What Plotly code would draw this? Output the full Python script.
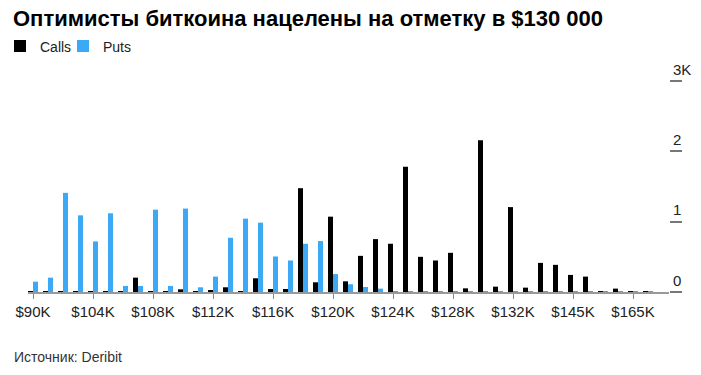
import plotly.graph_objects as go

strikes = ["$90K", "$95K", "$100K", "$102K", "$104K", "$105K", "$106K", "$107K",
           "$108K", "$109K", "$110K", "$111K", "$112K", "$113K", "$114K", "$115K",
           "$116K", "$117K", "$118K", "$119K", "$120K", "$121K", "$122K", "$123K",
           "$124K", "$125K", "$126K", "$127K", "$128K", "$129K", "$130K", "$131K",
           "$132K", "$134K", "$135K", "$140K", "$145K", "$150K", "$155K", "$160K",
           "$165K", "$170K"]

calls = [12, 12, 12, 12, 12, 12, 12, 204, 12, 12, 38, 12, 15, 67, 12, 195,
         43, 43, 1476, 138, 1071, 152, 514, 752, 686, 1781, 500, 448, 557, 52,
         2157, 76, 1207, 62, 414, 386, 243, 219, 12, 48, 12, 12]

puts = [147, 204, 1410, 1090, 719, 1119, 86, 86, 1171, 86, 1186, 67, 219, 771,
        1043, 986, 505, 448, 686, 724, 255, 110, 71, 48, 8, 8, 8, 8, 8, 8, 8, 8,
        8, 8, 8, 8, 8, 8, 8, 8, 8, 8]

tick_labels = ["$90K", "$104K", "$108K", "$112K", "$116K", "$120K", "$124K",
               "$128K", "$132K", "$145K", "$165K"]
y_ticks = [0, 1000, 2000, 3000]
y_tick_text = ["0", "1", "2", "3K"]

BLUE = "#3BA9F5"
FONT = "Liberation Sans"

W, H = 701, 375
ML, MR, MT, MB = 28, 32, 81, 83
PW, PH = W - ML - MR, H - MT - MB
CAT_PX = 15.0
X0 = -5 / CAT_PX
X1 = X0 + PW / CAT_PX

fig = go.Figure()
fig.add_trace(go.Bar(name="Calls", x=strikes, y=calls, marker_color="#000000",
                     marker_line_width=0, legend="legend"))
fig.add_trace(go.Bar(name="Puts", x=strikes, y=puts, marker_color=BLUE,
                     marker_line_width=0, legend="legend2"))

legend_common = dict(orientation="h", xref="container", yref="container",
                     xanchor="left", y=1 - 30.5/H, yanchor="top",
                     font=dict(family=FONT, size=14, color="#222222"),
                     itemwidth=30, bgcolor="rgba(0,0,0,0)")

fig.update_layout(
    width=W, height=H,
    margin=dict(l=ML, r=MR, t=MT, b=MB, autoexpand=False),
    paper_bgcolor="white", plot_bgcolor="white",
    barmode="group", bargap=1/3, bargroupgap=0,
    font=dict(family=FONT, color="#222222", size=14),
    title=dict(text="<b>Оптимисты биткоина нацелены на отметку в $130 000</b>",
               x=13/W, xanchor="left", xref="container",
               y=1 - 18/H, yanchor="middle", yref="container",
               font=dict(family=FONT, size=22, color="#000000")),
    legend=dict(x=0, **legend_common),
    legend2=dict(x=63/W, **legend_common),
    showlegend=True,
    annotations=[dict(text="Источник: Deribit", xref="paper", yref="paper",
                      x=(12 - ML) / PW, y=(H - MB - 357) / PH,
                      xanchor="left", yanchor="middle",
                      showarrow=False, font=dict(family=FONT, size=14, color="#333333"))],
)

fig.update_xaxes(
    type="category", range=[X0, X1], automargin=False,
    tickmode="array", tickvals=tick_labels, ticktext=tick_labels,
    ticks="outside", ticklen=5, tickwidth=1, tickcolor="#888888",
    showline=True, linecolor="#999999", linewidth=2,
    showgrid=False, zeroline=False,
    tickfont=dict(family=FONT, size=15, color="#222222"),
)
fig.update_yaxes(
    side="right", range=[0, 3000], automargin=False,
    tickmode="array", tickvals=y_ticks, ticktext=y_tick_text,
    ticks="outside", ticklen=12, tickwidth=2, tickcolor="#777777",
    ticklabelposition="outside top",
    showgrid=False, zeroline=False, showline=False,
    tickfont=dict(family=FONT, size=15, color="#222222"),
)

fig.write_html("out.html",
               config={"displayModeBar": False},
               post_script="document.body.style.margin='0';")
